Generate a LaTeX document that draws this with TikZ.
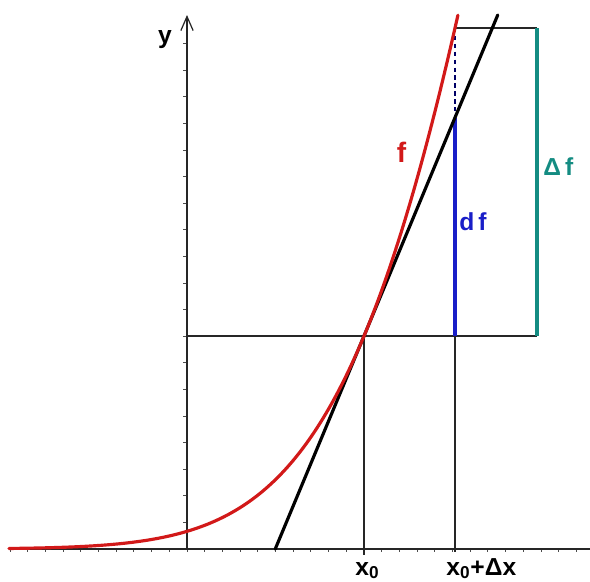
\documentclass[tikz,border=0pt]{standalone}
\usepackage{fontspec}
\setmainfont{Liberation Sans}
\usetikzlibrary{arrows.meta, calc}
\definecolor{fred}{RGB}{210,25,25}
\definecolor{dfblue}{RGB}{25,30,200}
\definecolor{delteal}{RGB}{20,140,130}
\tikzset{
  axis/.style = {line width=0.7pt, black!85},
  thin/.style = {line width=0.6pt, black!85},
  tck/.style  = {line width=0.5pt, black!70},
  fcurve/.style = {fred, line width=1.8pt, line cap=round},
  tang/.style = {black, line width=1.8pt, line cap=round},
  dfline/.style = {dfblue, line width=2.4pt},
  delline/.style = {delteal, line width=2.3pt},
  gap/.style = {dashed, dash pattern=on 2.5pt off 2pt, line width=0.7pt, black!60!blue},
  lbl/.style = {font=\fontsize{14}{16}\selectfont\bfseries, inner sep=0pt, anchor=base}
}

\begin{document}
\begin{tikzpicture}
  \useasboundingbox (-3.74, -0.64) rectangle (8.06, 10.98);
  \coordinate (O)    at ( 0.00,  0.00);
  \coordinate (Xl)   at (-3.56,  0.00);
  \coordinate (Xr)   at ( 8.06,  0.00);
  \coordinate (Yt)   at ( 0.00, 10.68);
  \coordinate (T)    at ( 3.54,  4.26);
  \coordinate (X0)   at ( 3.54, -0.12);
  \coordinate (X1)   at ( 5.36, -0.06);
  \coordinate (H)    at ( 5.36,  4.26);
  \coordinate (D)    at ( 5.36,  8.63);
  \coordinate (F)    at ( 5.36, 10.42);
  \coordinate (Ct)   at ( 7.00, 10.42);
  \coordinate (Cb)   at ( 7.00,  4.26);
  \coordinate (Lb)   at ( 1.765, 0.00);
  \coordinate (Lt)   at ( 6.215,10.68);

  %% Axes with small ticks
  \foreach \k in {-10,...,22}
    \draw[tck] (\k*0.354, 0) -- (\k*0.354, -0.06);
  \foreach \k in {1,...,19}
    \draw[tck] (0, \k*0.532) -- (-0.07, \k*0.532);
  \draw[axis] (Xl) -- (Xr);
  \draw[axis, -{Straight Barb[length=8pt,width=7pt]}] (O) -- (Yt);

  %% Guide lines
  \draw[thin] (O |- T) -- (Cb);
  \draw[thin] (T) -- (X0);
  \draw[thin] (H) -- (X1);
  \draw[thin] (F) -- (Ct);
  \draw[gap] (F) -- (D);

  %% Increments
  \draw[dfline] (H) -- (D);
  \draw[delline] (Cb) -- (Ct);

  %% Tangent and curve
  \draw[tang] (Lb) -- (Lt);
  \draw[fcurve] plot[domain=-3.56:5.42, samples=150, smooth]
    (\x, {exp(1.449 + 0.5635*(\x-3.54) - 0.0395*(\x-3.54)^2)});

  %% Labels
  \node[lbl] (ylab) at (-0.44, 10.1) {y};
  \node[lbl, fred, font=\fontsize{16}{18}\selectfont\bfseries] (flab) at (4.29, 7.74) {f};
  \node[lbl, dfblue, anchor=base west] (dflab) at (5.44, 6.38) {d\,f};
  \node[lbl, delteal, anchor=base west] (deflab) at (7.12, 7.48) {Δ\,f};
  \node[lbl, anchor=base west] (x0lab) at (3.36, -0.52) {x\textsubscript{0}};
  \node[lbl, anchor=base west] (x1lab) at (5.18, -0.52) {x\textsubscript{0}+Δx};
\end{tikzpicture}
\end{document}
